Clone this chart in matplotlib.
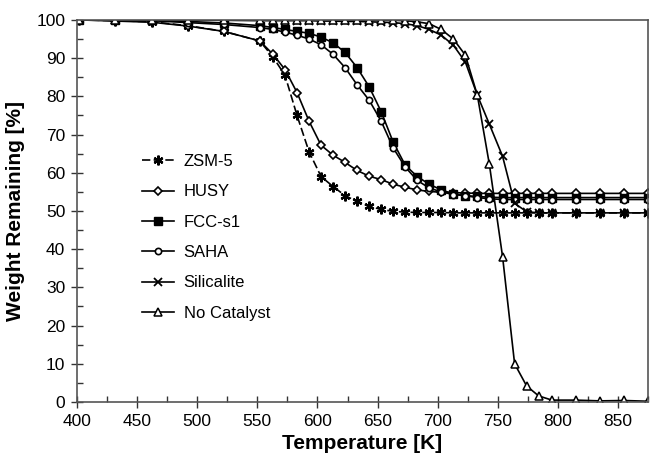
import matplotlib
matplotlib.use('Agg')
from matplotlib import pyplot as plt
from matplotlib.ticker import MultipleLocator

temps = [402, 432, 462, 492, 522, 552, 563, 573, 583, 593, 603, 613, 623, 633, 643, 653, 663,
         673, 683, 693, 703, 713, 723, 733, 743, 754, 764, 774, 784, 795, 815, 835, 855, 875]

zsm5 = [100, 99.8, 99.5, 98.5, 97, 94.5, 90.3, 85.5, 75, 65.5, 59, 56.4, 54, 52.5, 51.2, 50.4, 49.9,
        49.7, 49.6, 49.6, 49.6, 49.5, 49.5, 49.5, 49.5, 49.5, 49.5, 49.5, 49.5, 49.5, 49.5, 49.5, 49.5, 49.5]
husy = [100, 99.7, 99.4, 98.4, 97, 94.5, 91, 87, 81, 73.5, 67.2, 64.6, 62.7, 60.6, 59.1, 58.2, 57,
        56.2, 55.5, 55.1, 54.9, 54.8, 54.7, 54.6, 54.6, 54.6, 54.6, 54.6, 54.6, 54.6, 54.6, 54.6, 54.6, 54.6]
fcc_s1 = [100, 100, 99.9, 99.6, 99.2, 98.5, 98, 97.5, 97, 96.5, 95.5, 94, 91.5, 87.5, 82.5, 76, 68,
          62, 59, 57, 55.5, 54.5, 54, 53.8, 53.6, 53.5, 53.5, 53.5, 53.5, 53.5, 53.5, 53.5, 53.5, 53.5]
saha = [100, 100, 99.8, 99.3, 98.8, 98, 97.5, 96.8, 96, 95, 93.5, 91, 87.5, 83, 79, 73.5, 66.5,
        61.5, 58, 56, 55, 54.3, 54, 53.5, 53.2, 53, 53, 53, 53, 53, 53, 53, 53, 53]
silicalite = [100, 100, 100, 100, 99.9, 99.8, 99.8, 99.8, 99.8, 99.8, 99.7, 99.7, 99.6, 99.6, 99.5, 99.4, 99.3,
              99, 98.5, 97.5, 96, 93.4, 89, 80.3, 72.7, 64.3, 52, 49.8, 49.5, 49.5, 49.5, 49.5, 49.5, 49.5]
no_catalyst = [100, 100, 100, 100, 100, 100, 100, 100, 100, 100, 100, 100, 100, 99.9, 99.9, 99.9, 99.9,
               99.8, 99.5, 99, 97.5, 95, 90.8, 80.3, 62.2, 38, 10, 4.2, 1.6, 0.5, 0.5, 0.3, 0.4, 0.2]

plt.rcParams['font.family'] = ['Liberation Sans', 'DejaVu Sans']

fig = plt.figure(figsize=(6.5, 4.63), dpi=100)
ax = fig.add_axes([0.1185, 0.1317, 0.8785, 0.8253])

lw = 1.2
ms = 5.5
ax.plot(temps, zsm5, color='black', lw=lw, linestyle=(0, (5, 2)), marker=(6, 2, 0), ms=7, mew=1.6, label='ZSM-5')
ax.plot(temps, husy, color='black', lw=lw, marker='D', ms=4.5, mfc='white', mew=1.2, label='HUSY')
ax.plot(temps, fcc_s1, color='black', lw=lw, marker='s', ms=ms, mfc='black', label='FCC-s1')
ax.plot(temps, saha, color='black', lw=lw, marker='o', ms=4.5, mfc='white', mew=1.2, label='SAHA')
ax.plot(temps, silicalite, color='black', lw=lw, marker='x', ms=6, mew=1.3, label='Silicalite')
ax.plot(temps, no_catalyst, color='black', lw=lw, marker='^', ms=6, mfc='white', mew=1.1, label='No Catalyst')

ax.set_xlim(400, 875)
ax.set_ylim(0, 100)
ax.xaxis.set_major_locator(MultipleLocator(50))
ax.xaxis.set_minor_locator(MultipleLocator(25))
ax.yaxis.set_major_locator(MultipleLocator(10))
ax.yaxis.set_minor_locator(MultipleLocator(5))
ax.tick_params(which='major', direction='inout', length=9, width=1, labelsize=12.5, color='#333333', pad=4)
ax.tick_params(which='minor', direction='in', length=4, width=1, color='#333333')
ax.tick_params(top=False, right=False)
for s in ax.spines.values():
    s.set_color('#555555')
    s.set_linewidth(1.2)

ax.set_xlabel('Temperature [K]', fontsize=15, fontweight='bold', labelpad=4)
ax.set_ylabel('Weight Remaining [%]', fontsize=15, fontweight='bold', labelpad=8)

ax.legend(loc='upper left', bbox_to_anchor=(142 / 650, 1 - 154 / 463), bbox_transform=fig.transFigure,
          frameon=False, fontsize=12, handlelength=1.9, handletextpad=0.6, labelspacing=0.92,
          borderpad=0, borderaxespad=0)

plt.savefig('out.png', dpi=100)
